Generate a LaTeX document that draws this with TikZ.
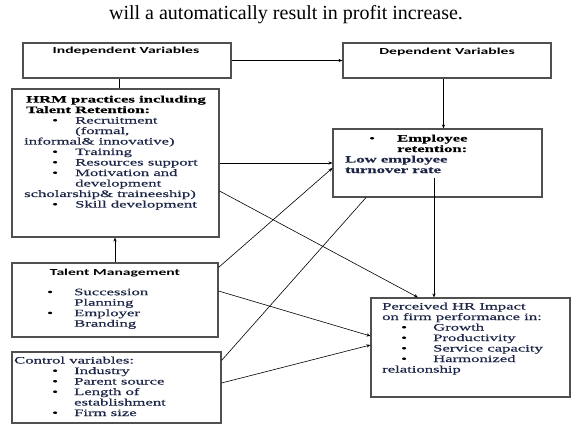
\documentclass[tikz,border=0pt]{standalone}
\usepackage{fontspec}
\setmainfont{Liberation Serif}
\newfontfamily\dfont[FakeStretch=1.7,FakeBold=0.35]{Liberation Serif}
\newfontfamily\sfont[FakeStretch=1.7]{Carlito}
\usetikzlibrary{arrows.meta}
\definecolor{itemcol}{RGB}{30,38,72}
\definecolor{boxcol}{RGB}{80,80,80}
\newcommand\bul[3]{\hspace*{#1}\makebox[#2][l]{\color{black}\textbullet}#3}
\begin{document}
\begin{tikzpicture}[x=1pt,y=-1pt,
 box/.style={draw=boxcol,line width=1.1pt,inner sep=0pt},
 hdr/.style={font=\sfont\bfseries\fontsize{9.2}{11}\selectfont, inner sep=0pt},
 txt/.style={font=\dfont\fontsize{9.8}{10.5}\selectfont, align=left, inner sep=0pt, anchor=north west, text=itemcol},
 arr/.style={-{Stealth[length=4pt,width=3.2pt]}, line width=0.6pt},
 con/.style={line width=0.6pt}]
\useasboundingbox (0,0) rectangle (573,425);
\fill[white] (0,0) rectangle (573,425);

\node[font=\fontsize{20}{23}\selectfont, inner sep=0pt] (title) at (286,15) {will a automatically result in profit increase.};

\node[box, minimum width=208pt, minimum height=35pt] (ind) at (127,60.5) {};
\node[box, minimum width=208pt, minimum height=35pt] (dep) at (447,60.5) {};
\node[box, minimum width=207pt, minimum height=148pt] (hrm) at (115.5,163) {};
\node[box, minimum width=209pt, minimum height=68pt] (emp) at (437.5,163) {};
\node[box, minimum width=206pt, minimum height=74pt] (tal) at (115,300) {};
\node[box, minimum width=209pt, minimum height=71pt] (ctl) at (116.5,387.5) {};
\node[box, minimum width=199pt, minimum height=99pt] (per) at (470.5,347.5) {};

\node[hdr] (indt) at (126,51) {Independent Variables};
\node[hdr] (dept) at (447,52) {Dependent Variables};
\node[hdr] (talt) at (115,273) {Talent Management};

\node[txt] (hrmt) at (24,95.5) {\hspace*{2pt}\textbf{\color{black}HRM practices including}\\
\hspace*{2pt}\textbf{\color{black}Talent Retention:}\\
\bul{28pt}{23pt}{Recruitment}\\
\hspace*{51pt}(formal,\\
informal\& innovative)\\
\bul{28pt}{23pt}{Training}\\
\bul{28pt}{23pt}{Resources support}\\
\bul{28pt}{23pt}{Motivation and}\\
\hspace*{51pt}development\\
scholarship\& traineeship)\\
\bul{28pt}{23pt}{Skill development}};

\node[txt] (empt) at (345,134.5) {\bul{24pt}{28pt}{\textbf{\color{black}Employee}}\\
\hspace*{52pt}\textbf{\color{black}retention:}\\
\textbf{Low employee}\\
\textbf{turnover rate}};

\node[txt] (talx) at (47,288.5) {\bul{0pt}{27pt}{Succession}\\
\hspace*{27pt}Planning\\
\bul{0pt}{27pt}{Employer}\\
\hspace*{27pt}Branding};

\node[txt] (ctlt) at (14,356.5) {Control variables:\\
\bul{38pt}{22pt}{Industry}\\
\bul{38pt}{22pt}{Parent source}\\
\bul{38pt}{22pt}{Length of}\\
\hspace*{60pt}establishment\\
\bul{38pt}{22pt}{Firm size}};

\node[txt] (pert) at (382,302.5) {Perceived HR Impact\\
on firm performance in:\\
\bul{19pt}{32pt}{Growth}\\
\bul{19pt}{32pt}{Productivity}\\
\bul{19pt}{32pt}{Service capacity}\\
\bul{19pt}{32pt}{Harmonized}\\
relationship};

\draw[arr] (ind.east) -- (dep.west);
\draw[con] ([xshift=-8pt]ind.south) -- ([xshift=-8pt]ind.south |- hrm.north);
\draw[arr] ([xshift=-3.5pt]dep.south) -- ([xshift=-3.5pt]dep.south |- emp.north);
\draw[arr] (tal.north) -- (tal.north |- hrm.south);
\draw[arr] (hrm.east) -- (emp.west);
\draw[arr] ([yshift=-5pt]tal.north east) -- ([yshift=-5pt]emp.west);
\draw[con] ([yshift=-9pt]ctl.north east) -- ([xshift=-71.5pt]emp.south);
\draw[arr] ([yshift=-28pt]hrm.east) -- ([xshift=-52.5pt]per.north);
\coordinate (empin) at (434,178);
\draw[arr] (empin) -- (empin |- per.north);
\draw[arr] ([yshift=9pt]tal.east) -- ([yshift=11.5pt]per.west);
\draw[arr] ([yshift=4.5pt]ctl.east) -- ([yshift=2.5pt]per.west);
\end{tikzpicture}
\end{document}
